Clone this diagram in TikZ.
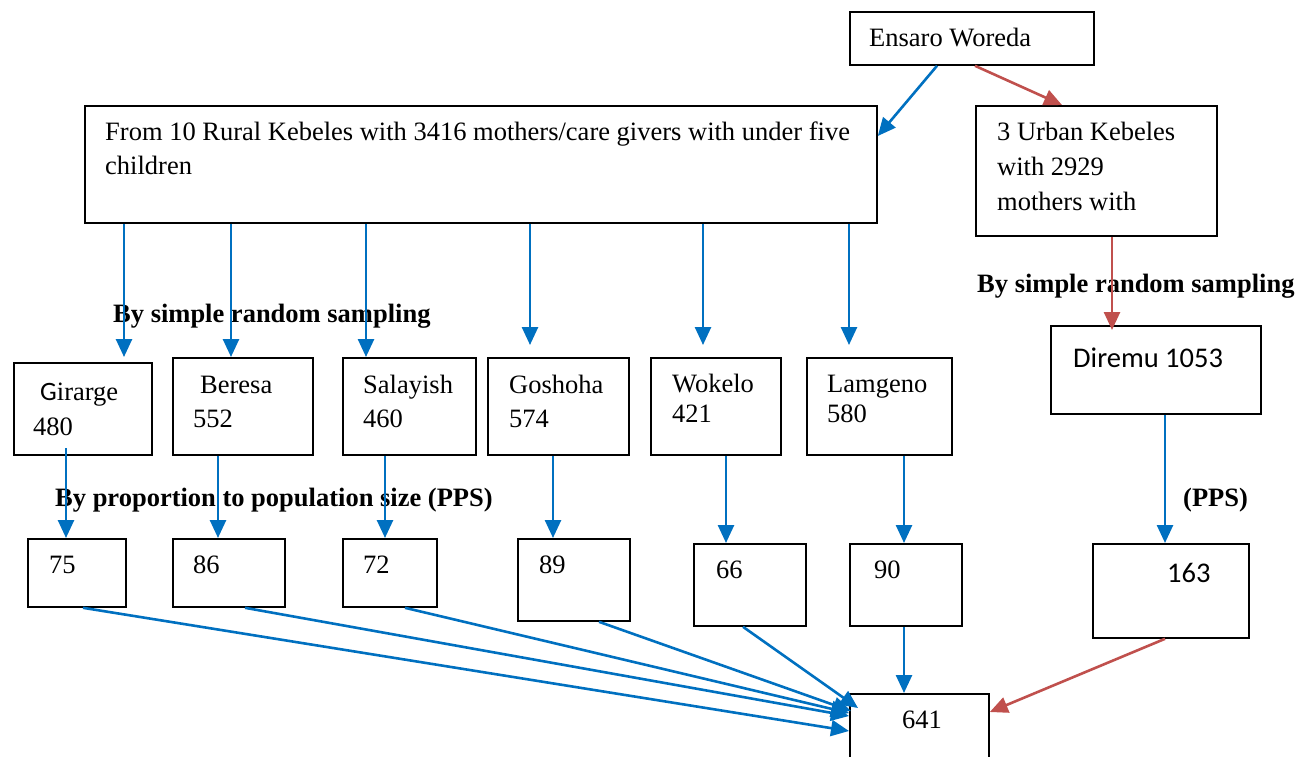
\documentclass[tikz,border=0pt]{standalone}
\usepackage{fontspec}
\setmainfont{Liberation Serif}
\newfontfamily\carlito{Carlito}
\usetikzlibrary{arrows.meta}
\definecolor{arrblue}{RGB}{0,112,192}
\definecolor{arrred}{RGB}{192,80,77}
\begin{document}
\begin{tikzpicture}[x=1pt,y=-1pt,
  box/.style={draw=black,line width=1.8pt,inner sep=0pt,anchor=north west},
  txt/.style={anchor=base west,inner sep=0pt,font=\fontsize{26.5}{35}\selectfont},
  stxt/.style={anchor=base west,inner sep=0pt,font=\carlito\fontsize{28.5}{35}\selectfont},
  lbl/.style={anchor=base west,inner sep=0pt,font=\fontsize{26.5}{35}\selectfont\bfseries},
  ba/.style={draw=arrblue,line width=2.6pt,-{Triangle[length=18pt,width=16pt]}},
  ra/.style={draw=arrred,line width=2.6pt,-{Triangle[length=18pt,width=16pt]}}]
\useasboundingbox (0,0) rectangle (1310,756);
\begin{scope}
\clip (0,0) rectangle (1310,756);
% boxes
\node[box,minimum width=244pt,minimum height=53pt] (ens) at (849,11) {};
\node[box,minimum width=792pt,minimum height=117pt] (rural) at (84,105) {};
\node[box,minimum width=241pt,minimum height=130pt] (urban) at (975,105) {};
\node[box,minimum width=138pt,minimum height=92pt] (gir) at (13,362) {};
\node[box,minimum width=140pt,minimum height=97pt] (ber) at (172,357) {};
\node[box,minimum width=133pt,minimum height=97pt] (sal) at (342,357) {};
\node[box,minimum width=141pt,minimum height=97pt] (gos) at (487,357) {};
\node[box,minimum width=130pt,minimum height=97pt] (wok) at (650,357) {};
\node[box,minimum width=145pt,minimum height=97pt] (lam) at (806,357) {};
\node[box,minimum width=210pt,minimum height=88pt] (dir) at (1050,325) {};
\node[box,minimum width=98pt,minimum height=68pt] (b75) at (27,538) {};
\node[box,minimum width=112pt,minimum height=68pt] (b86) at (172,538) {};
\node[box,minimum width=94pt,minimum height=68pt] (b72) at (342,538) {};
\node[box,minimum width=112pt,minimum height=82pt] (b89) at (517,538) {};
\node[box,minimum width=112pt,minimum height=82pt] (b66) at (693,543) {};
\node[box,minimum width=112pt,minimum height=82pt] (b90) at (849,543) {};
\node[box,minimum width=156pt,minimum height=94pt] (b163) at (1092,543) {};
\node[box,minimum width=139pt,minimum height=90pt] (b641) at (849,693) {};
% texts
\node[txt] (tens) at (869,46) {Ensaro Woreda};
\node[txt] (tr1) at (105,140) {From 10 Rural Kebeles with 3416 mothers/care givers with under five};
\node[txt] (tr2) at (105,174) {children};
\node[txt] (tu1) at (997,140) {3 Urban Kebeles};
\node[txt] (tu2) at (997,175) {with 2929};
\node[txt] (tu3) at (997,210) {mothers with};
\node[txt] (tg1) at (40,400) {{\carlito G}irarge};
\node[txt] (tg2) at (33,435) {480};
\node[txt] (tb1) at (200,393) {Beresa};
\node[txt] (tb2) at (193,427) {552};
\node[txt] (ts1) at (363,393) {Salayish};
\node[txt] (ts2) at (363,427) {460};
\node[txt] (tgo1) at (509,393) {Goshoha};
\node[txt] (tgo2) at (509,427) {574};
\node[txt] (tw1) at (672,392) {Wokelo};
\node[txt] (tw2) at (672,422) {421};
\node[txt] (tl1) at (827,392) {Lamgeno};
\node[txt] (tl2) at (827,422) {580};
\node[stxt] (td) at (1073,367) {Diremu 1053};
\node[txt] (t75) at (49,573) {75};
\node[txt] (t86) at (193,573) {86};
\node[txt] (t72) at (363,573) {72};
\node[txt] (t89) at (539,573) {89};
\node[txt] (t66) at (716,578) {66};
\node[txt] (t90) at (874,578) {90};
\node[stxt] (t163) at (1167,582) {163};
\node[txt] (t641) at (902,728) {641};
% labels
\node[lbl] (l1) at (977,292) {By simple random sampling};
\node[lbl] (l2) at (113,322) {By simple random sampling};
\node[lbl] (l3) at (55,506) {By proportion to population size (PPS)};
\node[lbl] (l4) at (1183,506) {(PPS)};
% arrows
\draw[ba] (937,0 |- ens.south) -- (rural.east |- 0,136);
\draw[ra] (975,0 |- ens.south) -- (1062,0 |- urban.north);
\draw[ba,shorten >=5pt] (124,0 |- rural.south) -- (124,0 |- gir.north);
\draw[ba] (231,0 |- rural.south) -- (231,0 |- ber.north);
\draw[ba] (366,0 |- rural.south) -- (366,0 |- sal.north);
\draw[ba,shorten >=12pt] (530,0 |- rural.south) -- (530,0 |- gos.north);
\draw[ba,shorten >=12pt] (703,0 |- rural.south) -- (703,0 |- wok.north);
\draw[ba,shorten >=12pt] (849,0 |- rural.south) -- (849,0 |- lam.north);
\draw[ra,shorten >=-5pt] (1112,0 |- urban.south) -- (1112,0 |- dir.north);
\draw[ba] (66,448) -- (66,0 |- b75.north);
\draw[ba] (218,0 |- ber.south) -- (218,0 |- b86.north);
\draw[ba] (385,0 |- sal.south) -- (385,0 |- b72.north);
\draw[ba] (553,0 |- gos.south) -- (553,0 |- b89.north);
\draw[ba] (726,0 |- wok.south) -- (726,0 |- b66.north);
\draw[ba] (904,0 |- lam.south) -- (904,0 |- b90.north);
\draw[ba] (1165,0 |- dir.south) -- (1165,0 |- b163.north);
\draw[ba] (83,0 |- b75.south) -- (b641.west |- 0,731);
\draw[ba] (245,0 |- b86.south) -- (b641.west |- 0,716);
\draw[ba] (405,0 |- b72.south) -- (b641.west |- 0,713);
\draw[ba] (599,0 |- b89.south) -- (851,711);
\draw[ba] (743,0 |- b66.south) -- (858,708);
\draw[ba] (904,0 |- b90.south) -- (904,0 |- b641.north);
\draw[ra] (1165,0 |- b163.south) -- (b641.east |- 0,712);
\end{scope}
\end{tikzpicture}
\end{document}
